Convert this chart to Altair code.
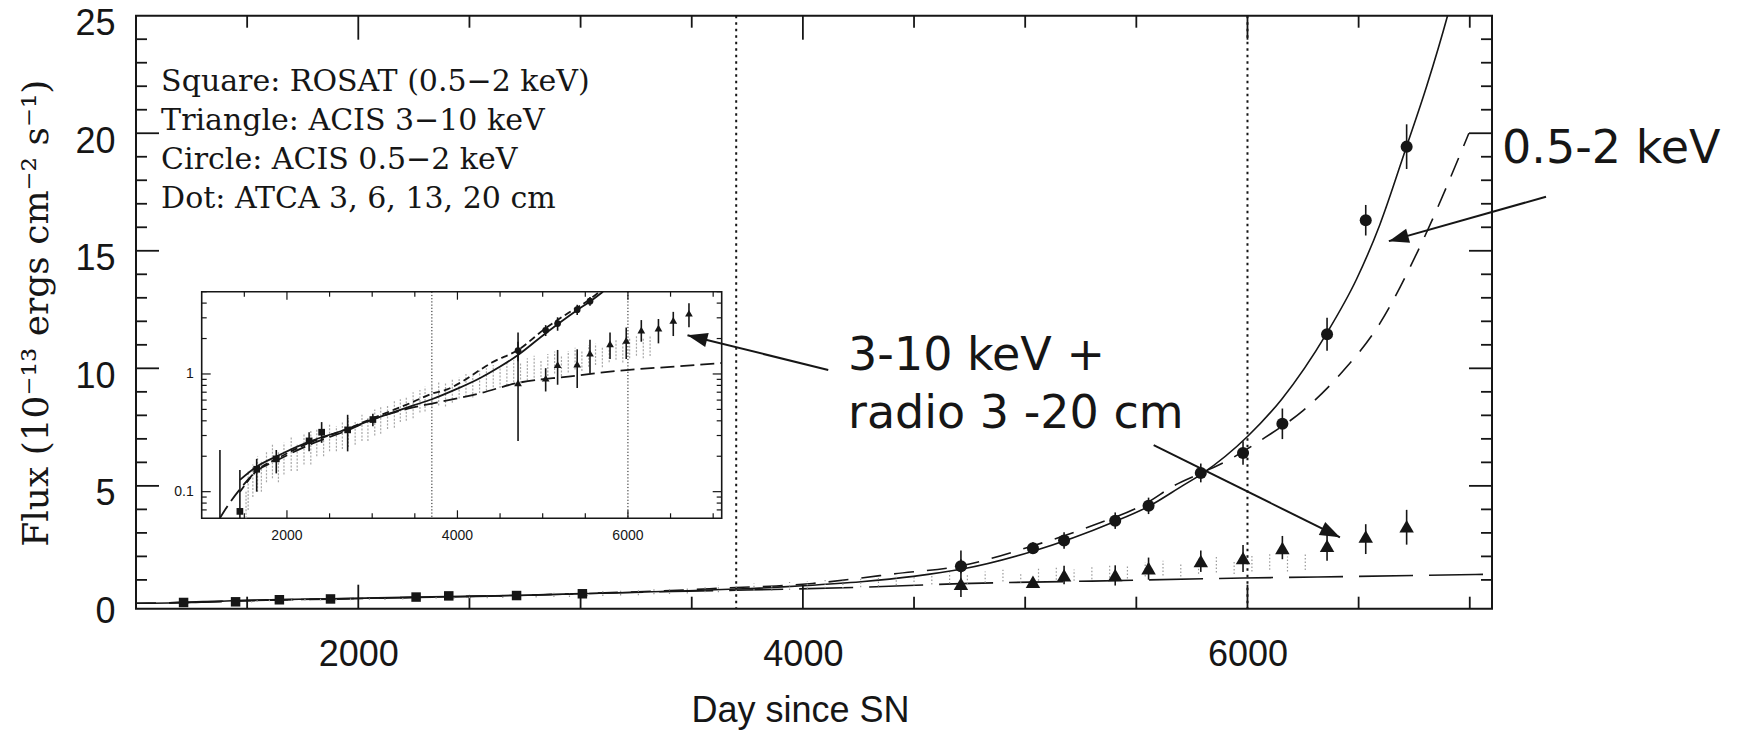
import math
import altair as alt
import pandas as pd

# ---------------- values ----------------
rosat_day  = [1214, 1448, 1645, 1875, 2260, 2407, 2712, 3008]
rosat_flux = [0.04, 0.068, 0.155, 0.19, 0.27, 0.32, 0.335, 0.41]
rosat_lo   = [0.01, 0.03, 0.10, 0.143, 0.22, 0.26, 0.22, 0.36]
rosat_hi   = [0.226, 0.153, 0.19, 0.226, 0.32, 0.39, 0.45, 0.46]

acis_day  = [4711, 5035, 5175, 5405, 5555, 5790, 5980, 6157, 6358, 6532, 6716]
soft_flux = [1.58, 2.35, 2.68, 3.52, 4.15, 5.55, 6.40, 7.64, 11.45, 16.30, 19.43]
soft_err  = [0.30, 0.25, 0.35, 0.35, 0.35, 0.40, 0.50, 0.65, 0.70, 0.65, 0.95]
hard_flux = [0.84, 0.92, 1.20, 1.21, 1.50, 1.80, 1.93, 2.36, 2.45, 2.85, 3.28]
hard_lo   = [0.27, 0.71, 0.81, 0.76, 1.01, 1.34, 1.34, 1.88, 1.82, 2.10, 2.50]
hard_hi   = [2.25, 1.12, 1.60, 1.62, 1.95, 2.25, 2.48, 2.87, 2.93, 3.37, 3.98]

radio_day = [1520, 1545, 1600, 1655, 1700, 1760, 1830, 1900,
             1965, 2050, 2120, 2200, 2280, 2350, 2430, 2500,
             2580, 2650, 2720, 2800, 2880, 2950, 3030, 3100,
             3180, 3260, 3330, 3400, 3480, 3560, 3620, 3700,
             3780, 3860, 3940, 4020, 4100, 4180, 4260, 4340,
             4420, 4500, 4580, 4660, 4740, 4820, 4900, 4980,
             5060, 5140, 5220, 5300, 5380, 5460, 5540, 5620,
             5700, 5780, 5860, 5940, 6020, 6100, 6180, 6260]
radio_flux = [0.07, 0.11, 0.13, 0.15, 0.14, 0.17, 0.19, 0.17,
              0.20, 0.22, 0.20, 0.24, 0.25, 0.27, 0.26, 0.30,
              0.29, 0.31, 0.33, 0.32, 0.36, 0.35, 0.40, 0.42,
              0.44, 0.47, 0.50, 0.52, 0.56, 0.60, 0.63, 0.66,
              0.70, 0.68, 0.74, 0.78, 0.82, 0.80, 0.88, 0.92,
              0.98, 0.95, 1.02, 1.08, 1.05, 1.12, 1.18, 1.10,
              1.22, 1.28, 1.20, 1.30, 1.38, 1.32, 1.45, 1.50,
              1.42, 1.58, 1.65, 1.55, 1.70, 1.78, 1.68, 1.75]
radio_err = [0.03, 0.04, 0.04, 0.05, 0.04, 0.05, 0.06, 0.05,
             0.06, 0.07, 0.05, 0.07, 0.08, 0.07, 0.06, 0.08,
             0.07, 0.08, 0.09, 0.07, 0.09, 0.08, 0.10, 0.11,
             0.10, 0.12, 0.11, 0.12, 0.14, 0.13, 0.15, 0.14,
             0.16, 0.15, 0.17, 0.16, 0.18, 0.17, 0.19, 0.20,
             0.21, 0.19, 0.22, 0.23, 0.21, 0.24, 0.25, 0.22,
             0.26, 0.27, 0.24, 0.27, 0.29, 0.26, 0.30, 0.31,
             0.28, 0.32, 0.33, 0.30, 0.34, 0.35, 0.32, 0.33]

solid_day  = [1000, 1250, 1449, 1645, 1879, 2261, 2700, 3004, 3482, 3700, 4000,
              4262, 4497, 4711, 5035, 5395, 5560, 5707, 5793, 6000, 6155, 6357,
              6491, 6595, 6716, 6806, 6900, 6950]
solid_flux = [0.005, 0.04, 0.126, 0.163, 0.20, 0.266, 0.339, 0.41, 0.54, 0.61, 0.75,
              0.92, 1.15, 1.45, 2.22, 3.45, 4.15, 5.0, 5.5, 7.1, 8.7, 11.5,
              13.8, 16.1, 19.45, 22.0, 25.0, 26.8]
sdash_day  = [1000, 1300, 1449, 1645, 1879, 2261, 2700, 3004, 3482, 3700, 3880,
              4043, 4262, 4404, 4711, 5035, 5300, 5551, 5668, 5793, 5905, 6078,
              6250, 6422, 6595, 6767, 6996]
sdash_flux = [0.01, 0.05, 0.10, 0.15, 0.19, 0.26, 0.34, 0.42, 0.58, 0.68, 0.74,
              0.85, 1.08, 1.25, 1.60, 2.45, 3.30, 4.30, 5.0, 5.55, 6.05, 7.05,
              8.2, 9.8, 11.9, 15.0, 20.0]
ldash_day  = [1150, 1216, 1300, 1449, 1645, 1879, 2261, 2700, 3004, 3482, 3700,
              4262, 4711, 5300, 5981, 6500, 7100]
ldash_flux = [0.03, 0.06, 0.075, 0.105, 0.15, 0.184, 0.25, 0.33, 0.41, 0.52, 0.56,
              0.685, 0.84, 0.95, 1.08, 1.15, 1.24]

vline_day = [3700, 6000]

legend_lines = ["Square: ROSAT (0.5\u22122 keV)", "Triangle: ACIS 3\u221210 keV",
                "Circle: ACIS 0.5\u22122 keV", "Dot: ATCA 3, 6, 13, 20 cm"]
legend_day = [1113, 1113, 1113, 1113]
legend_flux = [21.8, 20.15, 18.49, 16.83]

ann_text = ["0.5-2 keV", "3-10 keV +", "radio 3 -20 cm"]
ann_day = [7145, 4203, 4203]
ann_flux = [18.73, 9.92, 7.45]
arrow_from_day = [7343, 4114, 5578]
arrow_from_flux = [17.3, 9.93, 6.73]
arrow_to_day = [6636, 3481, 6416]
arrow_to_flux = [15.41, 11.41, 2.81]

main_x_major = [2000, 4000, 6000]
main_x_minor = [1500, 2500, 3000, 3500, 4500, 5000, 5500, 6500, 7000]
main_y_labels = [0, 5, 10, 15, 20, 25]
main_y_major = [5, 10, 15, 20]
main_y_minor = [1, 2, 3, 4, 6, 7, 8, 9, 11, 12, 13, 14, 16, 17, 18, 19, 21, 22, 23, 24]
inset_x_major = [2000, 4000, 6000]
inset_x_minor = [1500, 2500, 3000, 3500, 4500, 5000, 5500, 6500, 7000]
inset_y_major = [0.1, 1]
inset_y_labels = ["0.1", "1"]
inset_y_minor = [0.07, 0.08, 0.09, 0.2, 0.3, 0.4, 0.5, 0.6, 0.7, 0.8, 0.9, 2, 3, 4, 5]

# ---------------- layout / style ----------------
W, H = 1356, 593
PAD_L, PAD_T = 136, 15.7
X_DOM = [1000, 7100]
Y_DOM = [-0.225, 25]
IN_XR = [65.7, 585.7]
IN_YR = [502.6, 276.0]
IN_YDOM = [0.0594, 5.0]
INK = "#161616"
SERIF = "DejaVu Serif"
SANS = "Liberation Sans"
HAND = "DejaVu Sans"


def sx():
    return alt.Scale(domain=X_DOM, nice=False, zero=False)


def sy():
    return alt.Scale(domain=Y_DOM, nice=False, zero=False)


def ix():
    return alt.Scale(domain=X_DOM, range=IN_XR, nice=False, zero=False)


def iy(clamp=False):
    return alt.Scale(type="log", domain=IN_YDOM, range=IN_YR, nice=False, clamp=clamp)


rosat = pd.DataFrame({"day": rosat_day, "flux": rosat_flux, "lo": rosat_lo, "hi": rosat_hi})
soft = pd.DataFrame({"day": acis_day, "flux": soft_flux,
                     "lo": [f - e for f, e in zip(soft_flux, soft_err)],
                     "hi": [f + e for f, e in zip(soft_flux, soft_err)]})
hard = pd.DataFrame({"day": acis_day, "flux": hard_flux, "lo": hard_lo, "hi": hard_hi})
radio = pd.DataFrame({"day": radio_day, "flux": radio_flux,
                      "lo": [f - e for f, e in zip(radio_flux, radio_err)],
                      "hi": [f + e for f, e in zip(radio_flux, radio_err)]})
solid = pd.DataFrame({"day": solid_day, "flux": solid_flux})
sdash = pd.DataFrame({"day": sdash_day, "flux": sdash_flux})
ldash = pd.DataFrame({"day": ldash_day, "flux": ldash_flux})
one = pd.DataFrame({"k": [0]})

in_dom = (alt.datum.flux >= IN_YDOM[0]) & (alt.datum.flux <= IN_YDOM[1] + 1e-9)

layers = []

# ---------- axes carrier (labels + titles) ----------
x_axis = alt.Axis(values=main_x_major, format="d", labelFont=SANS, labelFontSize=36,
                  labelColor=INK, ticks=False, tickSize=0, domain=False, grid=False,
                  labelPadding=29, labelFlush=False,
                  title="Day since SN", titleFont=SANS, titleFontSize=36,
                  titleFontWeight="normal", titleColor=INK, titleX=664, titleY=113,
                  titleAlign="center", titleBaseline="alphabetic")
y_axis = alt.Axis(values=main_y_labels, format="d", labelFont=SANS, labelFontSize=36,
                  labelColor=INK, ticks=False, tickSize=0, domain=False, grid=False,
                  labelPadding=21, labelOffset=8, labelFlush=False,
                  title="Flux (10\u207b\u00b9\u00b3 ergs cm\u207b\u00b2 s\u207b\u00b9)",
                  titleFont=SERIF, titleFontSize=36, titleFontWeight="normal",
                  titleColor=INK, titleAngle=270, titleX=-100, titleY=297,
                  titleAlign="center", titleBaseline="middle")
layers.append(alt.Chart(soft).mark_point(opacity=0).encode(
    x=alt.X("day:Q", scale=sx(), axis=x_axis),
    y=alt.Y("flux:Q", scale=sy(), axis=y_axis)))

# ---------- main frame and ticks ----------
layers.append(alt.Chart(one).mark_rect(fillOpacity=0, stroke=INK, strokeWidth=2).encode(
    x=alt.value(0), x2=alt.value(W), y=alt.value(0), y2=alt.value(H)))


def xticks(vals, length, scale_fn, ybot, ytop, width):
    df = pd.DataFrame({"v": vals})
    base = alt.Chart(df).mark_rule(color=INK, strokeWidth=width)
    return [
        base.encode(x=alt.X("v:Q", scale=scale_fn(), axis=None),
                    y=alt.value(ybot), y2=alt.value(ybot - length)),
        base.encode(x=alt.X("v:Q", scale=scale_fn(), axis=None),
                    y=alt.value(ytop), y2=alt.value(ytop + length)),
    ]


def yticks(vals, length, scale_fn, xleft, xright, width):
    df = pd.DataFrame({"v": vals})
    base = alt.Chart(df).mark_rule(color=INK, strokeWidth=width)
    return [
        base.encode(y=alt.Y("v:Q", scale=scale_fn(), axis=None),
                    x=alt.value(xleft), x2=alt.value(xleft + length)),
        base.encode(y=alt.Y("v:Q", scale=scale_fn(), axis=None),
                    x=alt.value(xright), x2=alt.value(xright - length)),
    ]


layers += xticks(main_x_major, 24, sx, H, 0, 1.8)
layers += xticks(main_x_minor, 12, sx, H, 0, 1.8)
layers += yticks(main_y_major, 23, sy, 0, W, 1.8)
layers += yticks(main_y_minor, 11, sy, 0, W, 1.8)

# dotted vertical lines
layers.append(alt.Chart(pd.DataFrame({"v": vline_day})).mark_rule(
    color=INK, strokeWidth=2, strokeDash=[2.5, 4]).encode(
    x=alt.X("v:Q", scale=sx(), axis=None), y=alt.value(0), y2=alt.value(H)))

# ---------- main curves ----------
for df, dash in [(solid, None), (sdash, [20, 13]), (ldash, [54, 16])]:
    kw = dict(color=INK, strokeWidth=1.6, clip=True, interpolate="monotone")
    if dash:
        kw["strokeDash"] = dash
    layers.append(alt.Chart(df).mark_line(**kw).encode(
        x=alt.X("day:Q", scale=sx(), axis=None),
        y=alt.Y("flux:Q", scale=sy(), axis=None)))

# radio (dots)
layers.append(alt.Chart(radio).mark_rule(color="#9a9a9a", strokeWidth=1.2,
                                         strokeDash=[1.5, 2]).encode(
    x=alt.X("day:Q", scale=sx(), axis=None),
    y=alt.Y("lo:Q", scale=sy(), axis=None), y2="hi:Q"))

# error bars + markers
for df, shape, size in [(rosat, "square", 90), (hard, "triangle-up", 210), (soft, "circle", 145)]:
    layers.append(alt.Chart(df).mark_rule(color=INK, strokeWidth=1.6).encode(
        x=alt.X("day:Q", scale=sx(), axis=None),
        y=alt.Y("lo:Q", scale=sy(), axis=None), y2="hi:Q"))
    layers.append(alt.Chart(df).mark_point(shape=shape, filled=True, size=size,
                                           color=INK, opacity=1).encode(
        x=alt.X("day:Q", scale=sx(), axis=None),
        y=alt.Y("flux:Q", scale=sy(), axis=None)))

# legend text block
leg = pd.DataFrame({"t": legend_lines, "day": legend_day, "flux": legend_flux})
layers.append(alt.Chart(leg).mark_text(font=SERIF, fontSize=30, align="left",
                                       baseline="alphabetic", color=INK).encode(
    x=alt.X("day:Q", scale=sx(), axis=None),
    y=alt.Y("flux:Q", scale=sy(), axis=None), text="t:N"))

# ---------- inset ----------
layers.append(alt.Chart(one).mark_rect(fill="white", stroke=INK, strokeWidth=1.6).encode(
    x=alt.value(IN_XR[0]), x2=alt.value(IN_XR[1]), y=alt.value(IN_YR[1]), y2=alt.value(IN_YR[0])))
layers += xticks(inset_x_major, 8, ix, IN_YR[0], IN_YR[1], 1.2)
layers += xticks(inset_x_minor, 5, ix, IN_YR[0], IN_YR[1], 1.2)
layers += yticks(inset_y_major, 9, iy, IN_XR[0], IN_XR[1], 1.2)
layers += yticks(inset_y_minor, 5, iy, IN_XR[0], IN_XR[1], 1.2)

layers.append(alt.Chart(pd.DataFrame({"v": vline_day})).mark_rule(
    color=INK, strokeWidth=1, strokeDash=[1.2, 2]).encode(
    x=alt.X("v:Q", scale=ix(), axis=None), y=alt.value(IN_YR[1]), y2=alt.value(IN_YR[0])))

layers.append(alt.Chart(pd.DataFrame({"v": inset_x_major})).mark_text(
    font=SANS, fontSize=14, color=INK, align="center", baseline="middle").encode(
    x=alt.X("v:Q", scale=ix(), axis=None), y=alt.value(IN_YR[0] + 18),
    text=alt.Text("v:Q", format="d")))
layers.append(alt.Chart(pd.DataFrame({"v": inset_y_major, "t": inset_y_labels})).mark_text(
    font=SANS, fontSize=14, color=INK, align="right", baseline="middle").encode(
    y=alt.Y("v:Q", scale=iy(), axis=None), x=alt.value(IN_XR[0] - 8), text="t:N"))

layers.append(alt.Chart(radio).transform_filter(in_dom).mark_rule(
    color="#a8a8a8", strokeWidth=1.2, strokeDash=[2, 1.5]).encode(
    x=alt.X("day:Q", scale=ix(), axis=None),
    y=alt.Y("lo:Q", scale=iy(True), axis=None), y2="hi:Q"))

for df, dash in [(solid, None), (sdash, [7, 4]), (ldash, [14, 6])]:
    kw = dict(color=INK, strokeWidth=1.8, interpolate="monotone")
    if dash:
        kw["strokeDash"] = dash
    layers.append(alt.Chart(df).transform_filter(in_dom).mark_line(**kw).encode(
        x=alt.X("day:Q", scale=ix(), axis=None),
        y=alt.Y("flux:Q", scale=iy(), axis=None)))

for df, shape, size in [(rosat, "square", 45), (hard, "triangle-up", 60), (soft, "circle", 45)]:
    layers.append(alt.Chart(df).mark_rule(color=INK, strokeWidth=1.6).encode(
        x=alt.X("day:Q", scale=ix(), axis=None),
        y=alt.Y("lo:Q", scale=iy(True), axis=None), y2="hi:Q"))
    layers.append(alt.Chart(df).transform_filter(in_dom).mark_point(
        shape=shape, filled=True, size=size, color=INK, opacity=1).encode(
        x=alt.X("day:Q", scale=ix(), axis=None),
        y=alt.Y("flux:Q", scale=iy(), axis=None)))

# ---------- annotations ----------
def to_px(d, f):
    return ((d - X_DOM[0]) / (X_DOM[1] - X_DOM[0]) * W,
            (Y_DOM[1] - f) / (Y_DOM[1] - Y_DOM[0]) * H)


angles = []
for d0, f0, d1, f1 in zip(arrow_from_day, arrow_from_flux, arrow_to_day, arrow_to_flux):
    x0, y0 = to_px(d0, f0)
    x1, y1 = to_px(d1, f1)
    angles.append((math.degrees(math.atan2(y1 - y0, x1 - x0)) + 360) % 360)

arrows = pd.DataFrame({"d0": arrow_from_day, "f0": arrow_from_flux,
                       "d1": arrow_to_day, "f1": arrow_to_flux, "ang": angles})
layers.append(alt.Chart(arrows).mark_rule(color=INK, strokeWidth=2).encode(
    x=alt.X("d0:Q", scale=sx(), axis=None), x2="d1:Q",
    y=alt.Y("f0:Q", scale=sy(), axis=None), y2="f1:Q"))
layers.append(alt.Chart(arrows).mark_point(
    shape="M0,0L-1,-0.36L-1,0.36Z", filled=True, size=1600, color=INK, opacity=1).encode(
    x=alt.X("d1:Q", scale=sx(), axis=None),
    y=alt.Y("f1:Q", scale=sy(), axis=None),
    angle=alt.Angle("ang:Q", scale=None)))

ann = pd.DataFrame({"t": ann_text, "day": ann_day, "flux": ann_flux})
layers.append(alt.Chart(ann).mark_text(font=HAND, fontSize=46, align="left",
                                       baseline="alphabetic", color=INK).encode(
    x=alt.X("day:Q", scale=sx(), axis=None),
    y=alt.Y("flux:Q", scale=sy(), axis=None), text="t:N"))

chart = alt.layer(*layers).resolve_scale(x="independent", y="independent").properties(
    width=W, height=H,
    padding={"left": PAD_L, "top": PAD_T, "right": 1751 - PAD_L - W,
             "bottom": 731 - PAD_T - H},
    autosize=alt.AutoSizeParams(type="none"),
    background="white",
).configure_view(stroke=None)

chart.save("out.html", embed_options={"renderer": "svg", "actions": False})
